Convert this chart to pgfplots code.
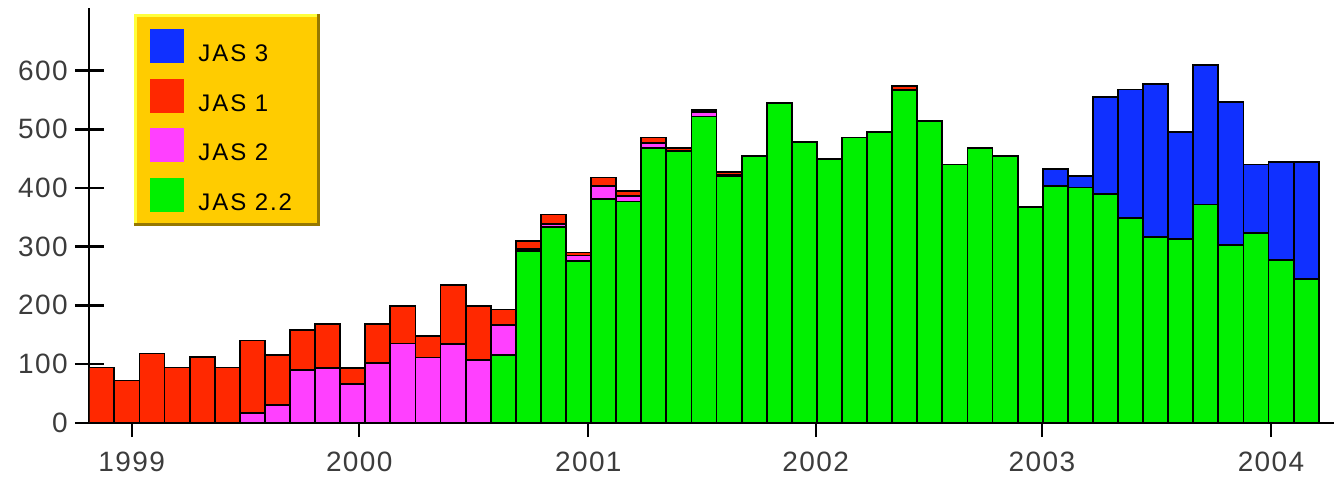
\documentclass[border=0pt]{standalone}
\usepackage{fontspec}
\setmainfont{Liberation Sans}
\usepackage{pgfplots}
\usepackage{pgfplotstable}
\pgfplotsset{compat=1.18}
\newfontfamily\tickfont[LetterSpace=5]{Liberation Sans}
\newfontfamily\legfont[LetterSpace=8]{Liberation Sans}
\definecolor{cgreen}{RGB}{0,240,0}
\definecolor{cmag}{RGB}{255,64,255}
\definecolor{cred}{RGB}{255,40,0}
\definecolor{cblue}{RGB}{16,48,255}
\definecolor{legbg}{RGB}{255,204,0}
\definecolor{leglight}{RGB}{255,255,60}
\definecolor{legdark}{RGB}{150,120,0}
\definecolor{tickgray}{RGB}{60,60,60}
\pgfplotstableread{
x g m r b
0.5 0 0 94 0
1.5 0 0 72 0
2.5 0 0 118 0
3.5 0 0 94 0
4.5 0 0 112 0
5.5 0 0 94 0
6.5 0 16 124 0
7.5 0 30 86 0
8.5 0 90 68 0
9.5 0 93 75 0
10.5 0 66 27 0
11.5 0 102 66 0
12.5 0 135 64 0
13.5 0 111 37 0
14.5 0 134 101 0
15.5 0 107 92 0
16.5 115 51 27 0
17.5 293 3 14 0
18.5 334 4 17 0
19.5 276 9 5 0
20.5 381 23 14 0
21.5 377 9 9 0
22.5 468 9 9 0
23.5 463 0 5 0
24.5 522 8 3 0
25.5 421 2 4 0
26.5 455 0 0 0
27.5 545 0 0 0
28.5 478 0 0 0
29.5 450 0 0 0
30.5 486 0 0 0
31.5 496 0 0 0
32.5 567 0 7 0
33.5 514 0 0 0
34.5 440 0 0 0
35.5 468 0 0 0
36.5 455 0 0 0
37.5 368 0 0 0
38.5 403 0 0 29
39.5 401 0 0 20
40.5 390 0 0 165
41.5 349 0 0 219
42.5 317 0 0 260
43.5 313 0 0 182
44.5 372 0 0 238
45.5 303 0 0 243
46.5 323 0 0 117
47.5 277 0 0 168
48.5 245 0 0 200
}\datatable
\begin{document}
\begin{tikzpicture}
\begin{axis}[
  scale only axis, width=622.35pt, height=207.35pt,
  xmin=0, xmax=49.61, ymin=0, ymax=706.8,
  axis lines=left,
  axis line style={-, line width=1pt, black},
  xtick pos=bottom, ytick pos=left,
  ybar stacked, bar width=1,
  xtick={1.69,10.76,19.89,28.95,37.97,47.10},
  xticklabels={1999,2000,2001,2002,2003,2004},
  ytick={0,100,...,600},
  tick align=center, major tick length=14.5pt,
  major tick style={line width=1pt, draw=black},
  minor tick num=0,
  /pgf/number format/assume math mode=true,
  ticklabel style={font=\tickfont\fontsize{14}{14}\selectfont, text=tickgray},
  xticklabel style={yshift=-4pt},
  legend style={at={(axis description cs:0.0488,0.9494)}, anchor=north west,
    draw=none, fill=none, inner sep=0pt, row sep=7pt, column sep=7pt,
    font=\legfont\fontsize{12}{12}\selectfont, nodes={inner sep=0pt, text=black}},
  legend cell align=left,
  reverse legend,
  legend image code/.code={\fill[#1,draw=none] (0pt,-4.2pt) rectangle (17pt,12.8pt);},
]
\fill[legbg] (axis description cs:0.03591,0.47432) rectangle (axis description cs:0.18535,0.98553);
\coordinate (lgbl) at (axis description cs:0.03591,0.47432);
\coordinate (lgtr) at (axis description cs:0.18535,0.98553);
\addplot[fill=cgreen, draw=black, line width=0.9pt] table[x=x,y=g]{\datatable};
\addlegendentry{JAS 2.2}
\addplot[fill=cmag, draw=black, line width=0.9pt] table[x=x,y=m]{\datatable};
\addlegendentry{JAS 2}
\addplot[fill=cred, draw=black, line width=0.9pt] table[x=x,y=r]{\datatable};
\addlegendentry{JAS 1}
\addplot[fill=cblue, draw=black, line width=0.9pt] table[x=x,y=b]{\datatable};
\addlegendentry{JAS 3}
\coordinate (bl) at (rel axis cs:0,0);
\coordinate (tr) at (rel axis cs:1,1);
\end{axis}
\foreach \k in {1,...,6}{
  \fill[black] ([xshift=-7.25pt,yshift=\k*29.336pt-0.6pt]bl) rectangle ([xshift=7.25pt,yshift=\k*29.336pt+0.6pt]bl);
}
\fill[black] ([xshift=-7.25pt,yshift=-0.6pt]bl) rectangle ([yshift=0.6pt]bl);
\draw[leglight, line width=1.5pt] ([xshift=0.75pt]lgbl) |- ([yshift=-0.75pt]lgtr);
\draw[legdark, line width=1.5pt] ([yshift=0.75pt]lgbl) -| ([xshift=-0.75pt]lgtr);
\pgfresetboundingbox
\useasboundingbox ([xshift=-44.65pt,yshift=-30.15pt]bl) rectangle ([yshift=4pt]tr);
\end{tikzpicture}
\end{document}
